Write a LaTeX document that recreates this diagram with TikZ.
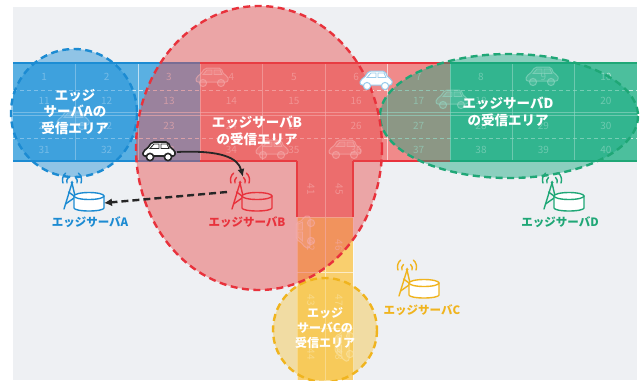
\documentclass[tikz,border=0pt]{standalone}
\usepackage{fontspec}
\setmainfont{Noto Sans CJK JP}
\usetikzlibrary{arrows.meta}

\definecolor{bggray}{HTML}{EEF0F3}
\definecolor{srvblue}{HTML}{1C8BD2}
\definecolor{srvred}{HTML}{E8323C}
\definecolor{srvyellow}{HTML}{F0B41E}
\definecolor{srvgreen}{HTML}{1FA776}
\definecolor{roadblue}{HTML}{5AB0E2}
\definecolor{roadred}{HTML}{F08A8A}
\definecolor{roadgreen}{HTML}{4CBF9D}
\definecolor{roadyellow}{HTML}{F9CF6E}
\definecolor{areablue}{HTML}{1E90D8}
\definecolor{areared}{HTML}{E84A4A}
\definecolor{areayellow}{HTML}{F5C542}
\definecolor{areagreen}{HTML}{13A97F}
\definecolor{pinkbg}{HTML}{EDA5A6}

\tikzset{
  cellno/.style={text=white,text opacity=0.6,inner sep=0pt,font=\fontsize{10}{10}\selectfont},
  lane/.style={white,opacity=0.7,line width=0.7pt,dash pattern=on 4pt off 3pt},
  cellsep/.style={white,opacity=0.6,line width=0.6pt},
  area/.style={line width=2.4pt,dash pattern=on 7pt off 4.5pt,fill opacity=0.45},
  areatext/.style={text=white,align=center,inner sep=0pt,font=\bfseries\fontsize{13.5}{16.5}\selectfont},
  srvlabel/.style={text=#1,inner sep=0pt,font=\bfseries\fontsize{11.5}{12}\selectfont},
  faintcar/.style={draw=white,fill=white,draw opacity=0.6,fill opacity=0.22,line width=1pt},
  handover/.style={line width=2.4pt,dash pattern=on 7pt off 4pt,color=black!85,-{Latex[length=8pt,width=8pt]}},
  carmove/.style={line width=1.8pt,color=black!85,-{Latex[length=8pt,width=7pt]}}
}

% car facing left, centred on #3, rotated by #2
\newcommand{\car}[3][]{%
  \begin{scope}[shift={(#3)},rotate=#2]
    \path[#1,rounded corners=2pt] (-16,4) -- (-16,-1) -- (-12,-3) -- (-7,-10) -- (9,-10) -- (12,-3) -- (16,-2) -- (16,4) -- cycle;
    \path[#1,line width=0.8pt] (-5,-8) -- (-9,-3.5) -- (0,-3.5) -- (0,-8) -- cycle (2,-8) -- (2,-3.5) -- (10,-3.5) -- (8,-8) -- cycle;
    \path[#1] (-9,5) circle (3.6) (9,5) circle (3.6);
  \end{scope}}

% antenna tower with a server drum, tip of the antenna at #1
\newcommand{\edgeserver}[3]{%
  \begin{scope}[shift={(#1)},draw=#2,line width=1.4pt,line cap=round]
    \draw (-5,2) arc[start angle=160,end angle=230,radius=5];
    \draw (-9,2) arc[start angle=160,end angle=230,radius=9];
    \draw (5,2) arc[start angle=20,end angle=-50,radius=5];
    \draw (9,2) arc[start angle=20,end angle=-50,radius=9];
    \draw (-8,28) -- (0,2) -- (6,28);
    \draw (-6.5,23) -- (3.5,16) -- (-3.5,11);
    \fill[#2] (0,1.5) circle (1.5);
    \draw[fill=#3] (2,15) -- (2,27) arc[start angle=180,end angle=0,x radius=15,y radius=3]
      -- (32,15) arc[start angle=0,end angle=-180,x radius=15,y radius=3.5] -- cycle;
    \draw (2,15) arc[start angle=180,end angle=0,x radius=15,y radius=3.5];
  \end{scope}}

\begin{document}
\begin{tikzpicture}[x=1pt,y=-1pt]
\useasboundingbox (0,0) rectangle (642,380);
\fill[bggray] (13,7) rectangle (637,380);

\fill[roadblue] (13,63) rectangle (200.2,161);
\fill[roadred] (200.2,63) rectangle (449.8,161);
\fill[roadgreen] (449.8,63) rectangle (637,161);
\fill[roadred] (297,161) rectangle (353,217);
\fill[roadyellow] (297,217) rectangle (353,380);

\draw[lane] (13,90) -- (637,90) (13,138) -- (637,138);
\draw[cellsep] (13,112) -- (637,112) (13,115) -- (637,115);
\foreach \k in {1,...,9}
  \draw[cellsep] ({13+62.4*\k},63) -- ({13+62.4*\k},161);
\draw[cellsep] (325,161) -- (325,380) (297,217) -- (353,217) (297,272) -- (353,272) (297,328) -- (353,328);
\draw[srvblue,line width=1.2pt] (13,63) -- (200.2,63) (13,161) -- (200.2,161);
\draw[srvred,line width=1.2pt] (200.2,63) -- (449.8,63) (200.2,161) -- (297,161) (353,161) -- (449.8,161)
  (297,161) -- (297,217) (353,161) -- (353,217);
\draw[srvgreen,line width=1.2pt] (449.8,63) -- (637,63) (449.8,161) -- (637,161);
\draw[white,opacity=0.6,line width=0.8pt] (297,217) -- (297,380) (353,217) -- (353,380);

\foreach \r/\yy in {0/77,1/101,2/126,3/150}
  \foreach \c in {1,...,10} {
    \pgfmathtruncatemacro\num{10*\r+\c}
    \node[cellno] at ({13+62.4*(\c-0.5)},\yy) {\num};
  }
\foreach \num/\xx/\yy in {41/311/189,42/311/245,43/311/300,44/311/354,45/339/189,46/339/245,47/339/300,48/339/354}
  \node[cellno,rotate=-90] at (\xx,\yy) {\num};

\car[faintcar]{0}{212,78}
\car[faintcar]{0}{542,77}
\car[faintcar]{0}{452,100}
\car[faintcar]{0}{73,121}
\car[faintcar]{0}{272,150}
\car[faintcar]{0}{345,150}
\car[faintcar]{90}{306,232}
\car[faintcar]{90}{345,345}

\draw[area,draw=srvblue,fill=areablue] (74,113) ellipse[x radius=63,y radius=64];
\draw[area,draw=srvgreen,fill=areagreen] (509,116) ellipse[x radius=129,y radius=62];
\draw[area,draw=srvyellow,fill=areayellow] (325,330) circle (52);
\draw[area,draw=srvred,fill=areared] (259,148) ellipse[x radius=123,y radius=142];

\car[draw=srvblue!45,fill=white,line width=1pt]{0}{376,81}

\node[areatext] (areaA) at (75,112) {エッジ\\サーバAの\\受信エリア};
\node[areatext] (areaB) at (257,131) {エッジサーバB\\の受信エリア};
\node[areatext] (areaD) at (508,112) {エッジサーバD\\の受信エリア};
\node[areatext,font=\bfseries\fontsize{12}{15}\selectfont] (areaC) at (325,328) {エッジ\\サーバCの\\受信エリア};

\edgeserver{72,181}{srvblue}{white}
\edgeserver{240,181}{srvred}{pinkbg}
\edgeserver{407,268}{srvyellow}{white}
\edgeserver{552,181}{srvgreen}{white}

\node[srvlabel=srvblue] (srvA) at (90,222) {エッジサーバA};
\node[srvlabel=srvred] (srvB) at (247,222) {エッジサーバB};
\node[srvlabel=srvyellow] (srvC) at (422,310) {エッジサーバC};
\node[srvlabel=srvgreen] (srvD) at (560,222) {エッジサーバD};

\car[draw=black!85,fill=white,line width=1.6pt]{0}{159,152}

\coordinate (carR) at (177,152);
\coordinate (srvBin) at (243,177);
\coordinate (srvBout) at (227,192);
\coordinate (srvAin) at (104,203);
\draw[carmove] (carR) .. controls (222,150) and (238,158) .. (srvBin);
\draw[handover] (srvBout) -- (srvAin);
\end{tikzpicture}
\end{document}
